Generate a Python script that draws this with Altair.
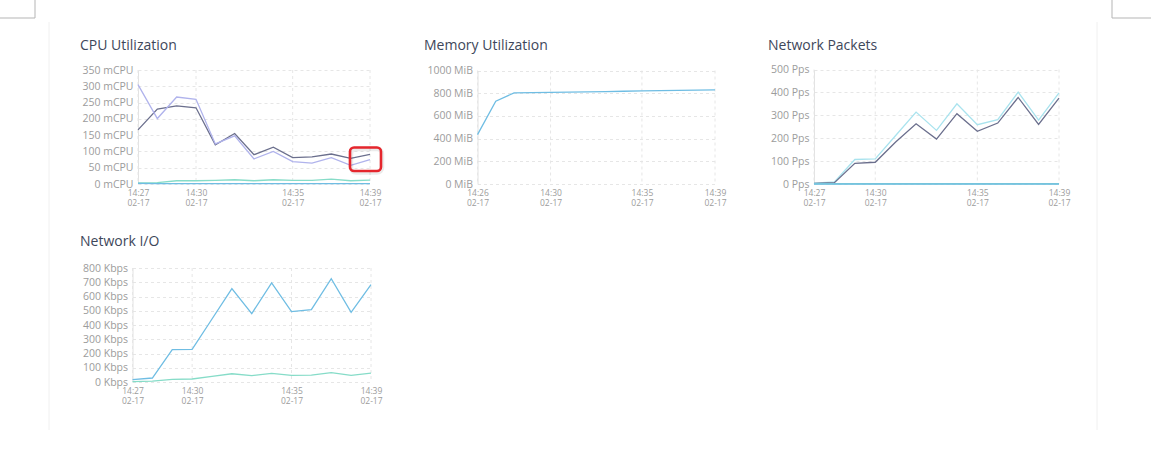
import altair as alt
import pandas as pd

DAY = "2024-02-17"

# ---------------- data ----------------
cpu_times = ["14:27", "14:28", "14:29", "14:30", "14:31", "14:32", "14:33",
             "14:34", "14:35", "14:36", "14:37", "14:38", "14:39"]
cpu_s1 = [166, 230, 240, 234, 120, 155, 90, 113, 81, 83, 92, 79, 91]
cpu_s2 = [305, 201, 267, 260, 123, 148, 77, 100, 69, 64, 81, 57, 75]
cpu_s3 = [3, 4, 10, 10, 11, 13, 10, 13, 11, 11, 15, 10, 12]
cpu_s4 = [2, 1, 1, 1, 1, 1, 1, 1, 1, 1, 1, 1, 1]
cpu_ticks_x = ["14:27", "14:30", "14:35", "14:39"]
cpu_ticks_y = [0, 50, 100, 150, 200, 250, 300, 350]

mem_times = ["14:26", "14:27", "14:28", "14:29", "14:30", "14:31", "14:32",
             "14:33", "14:34", "14:35", "14:36", "14:37", "14:38", "14:39"]
mem_s1 = [435, 730, 803, 805, 807, 809, 811, 813, 817, 820, 823, 825, 827, 829]
mem_ticks_x = ["14:26", "14:30", "14:35", "14:39"]
mem_ticks_y = [0, 200, 400, 600, 800, 1000]

pk_times = cpu_times
pk_s1 = [4, 9, 107, 110, 212, 314, 234, 350, 259, 281, 401, 279, 398]
pk_s2 = [3, 6, 90, 95, 183, 263, 196, 307, 230, 266, 378, 260, 375]
pk_s3 = [1, 1, 1, 1, 1, 1, 1, 1, 1, 1, 1, 1, 1]
pk_s4 = [0, 0, 0, 0, 0, 0, 0, 0, 0, 0, 0, 0, 0]
pk_ticks_x = ["14:27", "14:30", "14:35", "14:39"]
pk_ticks_y = [0, 100, 200, 300, 400, 500]

io_times = cpu_times
io_s1 = [16, 28, 227, 229, 442, 655, 480, 695, 494, 508, 725, 489, 683]
io_s2 = [3, 6, 19, 21, 40, 58, 45, 60, 47, 48, 66, 47, 63]
io_ticks_x = ["14:27", "14:30", "14:35", "14:39"]
io_ticks_y = [0, 100, 200, 300, 400, 500, 600, 700, 800]

titles = ["CPU Utilization", "Memory Utilization", "Network Packets", "Network I/O"]
units = ["mCPU", "MiB", "Pps", "Kbps"]

# ---------------- style ----------------
W, H = 1151, 454
FONT = "Open Sans"
TITLE_COLOR = "#3e475a"
LABEL_COLOR = "#9c9c9c"
GRID_COLOR = "#e6e6e6"
SLATE = "#6b6f8d"
LAVENDER = "#b0b3ec"
TEAL = "#86dcc8"
BLUE = "#6fbde3"
CYAN = "#a9e3ee"
BOX = "#b5b5b5"
EDGE = "#f0f0f0"
HIGHLIGHT = "#e5262d"


def ts(hhmm):
    return f"{DAY}T{hhmm}:00"


def dt(hhmm):
    h, m = hhmm.split(":")
    return alt.DateTime(year=2024, month=2, date=17, hours=int(h), minutes=int(m))


def long_df(times, series):
    rows = []
    for order, (name, vals) in enumerate(series):
        for t, v in zip(times, vals):
            rows.append({"t": ts(t), "s": name, "o": order, "v": v})
    return pd.DataFrame(rows)


def panel(key, times, series, colors, unit, yticks, xticks, xr, yr):
    """xr / yr: pixel ranges of the panel's plot area on the page."""
    xscale = alt.Scale(domain=[dt(times[0]), dt(times[-1])], nice=False, range=list(xr))
    yscale = alt.Scale(domain=[yticks[0], yticks[-1]], nice=False, range=list(yr))
    xaxis = alt.Axis(
        orient="bottom", offset=yr[0] - H,
        values=[dt(v) for v in xticks],
        labelExpr="[timeFormat(datum.value, '%H:%M'), timeFormat(datum.value, '%m-%d')]",
        title=None, domain=False, ticks=False, grid=False,
        labelFont=FONT, labelFontSize=8.5, labelColor=LABEL_COLOR,
        labelPadding=4.5, labelLineHeight=10, labelFlush=False,
        labelOverlap=False, labelBaseline="top",
    )
    yaxis = alt.Axis(
        orient="left", offset=-xr[0],
        values=yticks,
        labelExpr=f"datum.value + ' {unit}'",
        title=None, domain=True, domainColor="#e2e2e2", ticks=False,
        grid=True, gridColor=GRID_COLOR, gridDash=[3, 3], gridWidth=1,
        labelFont=FONT, labelFontSize=10.5, labelColor=LABEL_COLOR,
        labelPadding=5, labelOverlap=False,
    )
    names = [f"{key}-{s[0]}" for s in series]
    df = long_df(times, [(f"{key}-{n}", v) for n, v in series])
    vgrid = alt.Chart(pd.DataFrame({"t": [ts(v) for v in xticks]})).mark_rule(
        color=GRID_COLOR, strokeDash=[3, 3], strokeWidth=1
    ).encode(
        x=alt.X("t:T", scale=xscale, axis=xaxis),
        y=alt.YDatum(yticks[-1], type="quantitative", scale=yscale, axis=yaxis),
        y2=alt.Y2Datum(yticks[0]),
    )
    lines = alt.Chart(df).mark_line(strokeWidth=1.3, clip=False).encode(
        x=alt.X("t:T", scale=xscale, axis=xaxis),
        y=alt.Y("v:Q", scale=yscale, axis=yaxis),
        color=alt.Color("s:N", scale=alt.Scale(domain=names, range=colors), legend=None),
        order=alt.Order("o:Q"),
    )
    return alt.layer(vgrid, lines)


def title_text(text, x, y):
    return alt.Chart(pd.DataFrame({"k": [0]})).mark_text(
        text=text, align="left", baseline="alphabetic", font=FONT,
        fontSize=14, color=TITLE_COLOR
    ).encode(x=alt.value(x), y=alt.value(y))


def hrule(x1, x2, y, color):
    return alt.Chart(pd.DataFrame({"k": [0]})).mark_rule(color=color, strokeWidth=1).encode(
        x=alt.value(x1), x2=alt.value(x2), y=alt.value(y))


def vrule(x, y1, y2, color):
    return alt.Chart(pd.DataFrame({"k": [0]})).mark_rule(color=color, strokeWidth=1).encode(
        x=alt.value(x), y=alt.value(y1), y2=alt.value(y2))


def highlight_box(x1, x2, y1, y2):
    shadow = alt.Chart(pd.DataFrame({"k": [0]})).mark_rect(
        fill="transparent", stroke="#000000", strokeOpacity=0.08, strokeWidth=4.5,
        cornerRadius=5
    ).encode(x=alt.value(x1 + 1), x2=alt.value(x2 + 1), y=alt.value(y1 + 1.5), y2=alt.value(y2 + 1.5))
    box = alt.Chart(pd.DataFrame({"k": [0]})).mark_rect(
        fill="transparent", stroke=HIGHLIGHT, strokeWidth=2.6, cornerRadius=4
    ).encode(x=alt.value(x1), x2=alt.value(x2), y=alt.value(y1), y2=alt.value(y2))
    return [shadow, box]


cpu = panel("cpu", cpu_times,
            [("a", cpu_s1), ("b", cpu_s2), ("c", cpu_s3), ("d", cpu_s4)],
            [SLATE, LAVENDER, TEAL, BLUE], units[0], cpu_ticks_y, cpu_ticks_x,
            (138, 370), (184, 70))
mem = panel("mem", mem_times, [("a", mem_s1)], [BLUE], units[1],
            mem_ticks_y, mem_ticks_x, (477.5, 715), (184, 70.5))
pk = panel("pk", pk_times,
           [("a", pk_s1), ("b", pk_s2), ("c", pk_s3), ("d", pk_s4)],
           [CYAN, SLATE, TEAL, BLUE], units[2], pk_ticks_y, pk_ticks_x,
           (814, 1059), (184, 69.5))
io = panel("io", io_times, [("a", io_s1), ("b", io_s2)], [BLUE, TEAL], units[3],
           io_ticks_y, io_ticks_x, (132.5, 371), (382, 268))

chart = alt.layer(
    # page decorations
    hrule(0, 35, 18, BOX), vrule(35, 0, 18, BOX),
    hrule(1112, 1151, 18, BOX), vrule(1112, 0, 18, BOX),
    vrule(49, 22, 430, EDGE), vrule(1097, 22, 430, EDGE),
    # titles
    title_text(titles[0], 80, 49.5),
    title_text(titles[1], 424, 49.5),
    title_text(titles[2], 768, 49.5),
    title_text(titles[3], 80, 246),
    # panels
    cpu, mem, pk, io,
    # red highlight annotation
    *highlight_box(350, 381, 147.5, 171),
).resolve_scale(
    x="independent", y="independent", color="independent"
).resolve_axis(
    x="independent", y="independent"
).properties(
    width=W, height=H, padding=0,
    autosize=alt.AutoSizeParams(type="none"),
).configure(background="white").configure_view(strokeWidth=0)

chart.save("out.html", embed_options={"renderer": "svg", "actions": False})
